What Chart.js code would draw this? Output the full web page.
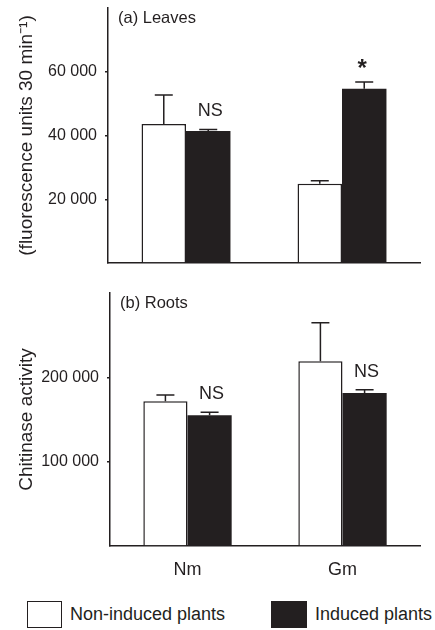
<!DOCTYPE html>
<html>
<head>
<meta charset="utf-8">
<script src="https://cdn.jsdelivr.net/npm/chart.js@4.4.0/dist/chart.umd.min.js"></script>
<style>
body{margin:0;background:#fff;font-family:"Liberation Sans",Arial,sans-serif;color:#231f20}
#wrap{position:relative;width:435px;height:630px;overflow:hidden}
canvas{position:absolute;left:0}
#leaves{top:0}
#roots{top:280px}
.key{position:absolute;top:601px;height:27px;box-sizing:border-box;border:1.5px solid #231f20}
.keytxt{position:absolute;top:603px;font-size:18px;line-height:22px;white-space:nowrap}
</style>
</head>
<body>
<div id="wrap">
  <canvas id="leaves" width="435" height="275"></canvas>
  <canvas id="roots" width="435" height="312"></canvas>
  <div class="key" style="left:27px;width:35px;background:#fff"></div>
  <div class="keytxt" id="k0" style="left:70px"></div>
  <div class="key" style="left:271px;width:36px;background:#231f20"></div>
  <div class="keytxt" id="k1" style="left:315px"></div>
</div>
<script>
// values
const categories = ['Nm', 'Gm'];
const seriesNames = ['Non-induced plants', 'Induced plants'];

const leavesNonInduced = [43600, 24900];
const leavesNonInducedErr = [9100, 900];
const leavesInduced = [41400, 54700];
const leavesInducedErr = [500, 2100];
const leavesMarks = ['NS', '*'];
const leavesTicks = [20000, 40000, 60000];

const rootsNonInduced = [171500, 219000];
const rootsNonInducedErr = [7500, 45600];
const rootsInduced = [155000, 181300];
const rootsInducedErr = [3600, 4000];
const rootsMarks = ['NS', 'NS'];
const rootsTicks = [100000, 200000];

const ink = '#231f20';
const fam = '"Liberation Sans", Arial, sans-serif';
Chart.defaults.font.family = fam;
Chart.defaults.color = ink;

document.getElementById('k0').textContent = seriesNames[0];
document.getElementById('k1').textContent = seriesNames[1];

const fmt = v => v.toLocaleString('en-US').replace(/,/g, ' ');

// upward error bars with a cap
const errorBars = {
    id: 'errorBars',
    afterDatasetsDraw(chart) {
        const ctx = chart.ctx, y = chart.scales.y;
        chart.data.datasets.forEach((ds, i) => {
            chart.getDatasetMeta(i).data.forEach((bar, j) => {
                const top = y.getPixelForValue(ds.data[j] + ds.err[j]);
                ctx.save();
                ctx.strokeStyle = ink;
                ctx.lineWidth = 1.5;
                ctx.beginPath();
                ctx.moveTo(bar.x, bar.y);
                ctx.lineTo(bar.x, top);
                ctx.moveTo(bar.x - 9, top);
                ctx.lineTo(bar.x + 9, top);
                ctx.stroke();
                ctx.restore();
            });
        });
    }
};

// panel label + significance marks over the induced bars
const panelText = {
    id: 'panelText',
    afterDraw(chart, args, opts) {
        const ctx = chart.ctx, y = chart.scales.y, area = chart.chartArea;
        const ds = chart.data.datasets[1];
        const meta = chart.getDatasetMeta(1);
        ctx.save();
        ctx.fillStyle = ink;
        ctx.textAlign = 'left';
        ctx.textBaseline = 'middle';
        ctx.font = '16.5px ' + fam;
        ctx.fillText(opts.label, area.left + 10, area.top + 10);
        ctx.textAlign = 'center';
        ctx.textBaseline = 'alphabetic';
        opts.marks.forEach((m, j) => {
            const top = y.getPixelForValue(ds.data[j] + ds.err[j]);
            if (m === '*') {
                ctx.font = 'bold 24px ' + fam;
                ctx.fillText(m, meta.data[j].x - 2, top - 6);
            } else {
                ctx.font = '18px ' + fam;
                ctx.fillText(m, meta.data[j].x + 2, top - 13);
            }
        });
        ctx.restore();
    }
};

const noPad = s => { s.paddingTop = 0; s.paddingBottom = 0; s.paddingLeft = 0; s.paddingRight = 0; };

function makeChart(id, o) {
    return new Chart(document.getElementById(id), {
        type: 'bar',
        data: {
            labels: categories,
            datasets: [
                {label: seriesNames[0], data: o.a, err: o.aErr, backgroundColor: '#fff', borderColor: ink, borderWidth: 1.5},
                {label: seriesNames[1], data: o.b, err: o.bErr, backgroundColor: ink, borderWidth: 0}
            ]
        },
        options: {
            responsive: false,
            animation: false,
            events: [],
            categoryPercentage: 0.57,
            barPercentage: 1,
            layout: {padding: {left: 0, right: 15, top: o.padTop, bottom: 0}},
            plugins: {
                legend: {display: false},
                tooltip: {enabled: false},
                panelText: {label: o.label, marks: o.marks}
            },
            scales: {
                x: {
                    grid: {display: false},
                    border: {display: true, color: ink, width: 1.5},
                    ticks: {display: o.showX, font: {size: 18}, padding: 5, color: ink},
                    afterFit: s => { s.height = o.xHeight; noPad(s); }
                },
                y: {
                    min: 0,
                    max: o.max,
                    ticks: {
                        stepSize: o.ticks[0],
                        font: {size: 16},
                        padding: 8,
                        color: ink,
                        callback: v => o.ticks.includes(v) ? fmt(v) : ''
                    },
                    grid: {
                        drawOnChartArea: false, drawTicks: true, tickLength: 3, lineWidth: 1.5,
                        tickColor: c => o.ticks.includes(c.tick && c.tick.value) ? ink : 'rgba(0,0,0,0)'
                    },
                    border: {display: true, color: ink, width: 1.5},
                    title: {display: true, text: o.title, font: {size: 19}, padding: {top: 15, bottom: 0}, color: ink},
                    afterFit: s => { s.width = o.yWidth; noPad(s); }
                }
            }
        },
        plugins: [errorBars, panelText]
    });
}

makeChart('leaves', {
    a: leavesNonInduced, aErr: leavesNonInducedErr,
    b: leavesInduced, bErr: leavesInducedErr,
    marks: leavesMarks, ticks: leavesTicks, max: 80000,
    label: '(a) Leaves', title: '(fluorescence units 30 min\u207B\u00B9)',
    padTop: 8, xHeight: 12, yWidth: 108, showX: false
});

makeChart('roots', {
    a: rootsNonInduced, aErr: rootsNonInducedErr,
    b: rootsInduced, bErr: rootsInducedErr,
    marks: rootsMarks, ticks: rootsTicks, max: 300000,
    label: '(b) Roots', title: 'Chitinase activity',
    padTop: 13, xHeight: 46, yWidth: 110, showX: true
});
</script>
</body>
</html>
